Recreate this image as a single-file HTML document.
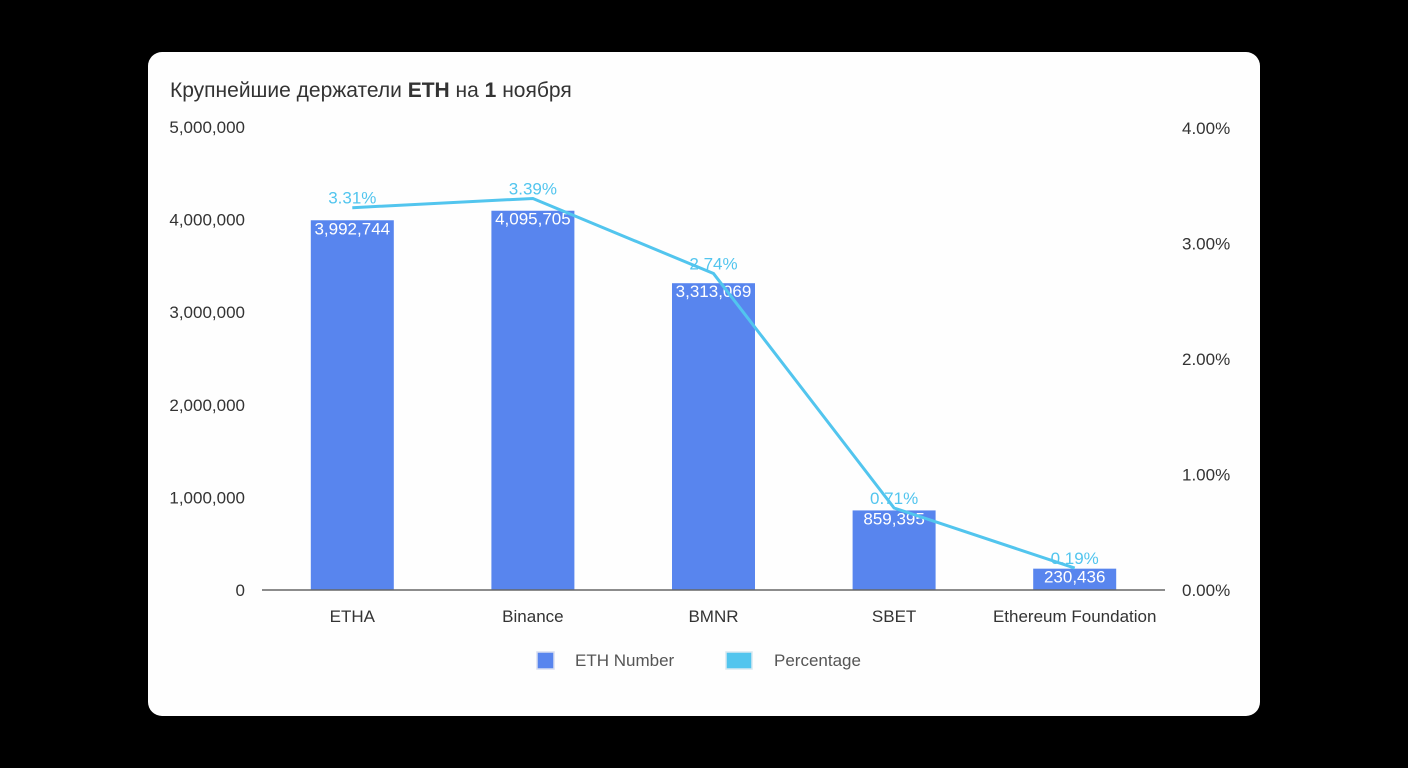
<!DOCTYPE html>
<html><head><meta charset="utf-8"><style>
body{margin:0;background:#000;width:1408px;height:768px;overflow:hidden;font-family:"Liberation Sans","Noto Sans CJK SC",sans-serif}
#card{position:absolute;left:148px;top:52px;width:1112px;height:664px;background:#fefefe;border-radius:14px}
svg{position:absolute;left:0;top:0}
</style></head><body>
<div id="card"></div>
<svg id="chart" width="1408" height="768"></svg>
<script>
const categories=["ETHA","Binance","BMNR","SBET","Ethereum Foundation"];
const ethNumbers=[3992744,4095705,3313069,859395,230436];
const percentages=[3.31,3.39,2.74,0.71,0.19];
const leftTicks=[0,1000000,2000000,3000000,4000000,5000000];
const rightTicks=[0,1,2,3,4];
const svg=document.getElementById('chart');
const NS='http://www.w3.org/2000/svg';
const x0=262,x1=1165,yBase=590,yTop=127,yTopR=128;
const band=(x1-x0)/categories.length;
const xC=i=>x0+band*(i+0.5);
const yL=v=>yBase-v/5000000*(yBase-yTop);
const yR=v=>yBase-v/4*(yBase-yTopR);
function el(t,a,txt){const e=document.createElementNS(NS,t);for(const k in a)e.setAttribute(k,a[k]);if(txt!==undefined)e.textContent=txt;svg.appendChild(e);return e;}
const fmt=v=>v.toLocaleString('en-US');
let t=el('text',{x:170,y:97,'font-size':21,fill:'#333'});
t.innerHTML='Крупнейшие держатели <tspan font-weight="bold">ETH</tspan> на <tspan font-weight="bold">1</tspan> ноября';


leftTicks.forEach(v=>{const e=el('text',{x:245,y:yL(v)+6,'font-size':17,fill:'#333','text-anchor':'end'},fmt(v));

});
rightTicks.forEach(v=>{const e=el('text',{x:1182,y:yR(v)+6,'font-size':17,fill:'#333'},v.toFixed(2)+'%');

});
const bw=83;
ethNumbers.forEach((v,i)=>{const r=el('rect',{x:xC(i)-bw/2,y:yL(v),width:bw,height:yBase-yL(v),fill:'#5885ee'});

});
const ax=el('line',{x1:x0,x2:x1,y1:yBase,y2:yBase,stroke:'#666','stroke-width':1.5});


categories.forEach((c,i)=>{const e=el('text',{x:xC(i),y:622,'font-size':17,fill:'#333','text-anchor':'middle'},c);

});
ethNumbers.forEach((v,i)=>{const e=el('text',{x:xC(i),y:yL(v)+14,'font-size':17,fill:'#fff','text-anchor':'middle'},fmt(v));

});
const pl=el('polyline',{points:percentages.map((p,i)=>xC(i)+','+yR(p)).join(' '),fill:'none',stroke:'#52c5ee','stroke-width':3});


percentages.forEach((p,i)=>{const e=el('text',{x:xC(i),y:yR(p)-4,'font-size':17,fill:'#52c5ee','text-anchor':'middle'},p.toFixed(2)+'%');

});
let s=el('rect',{x:537,y:652,width:17,height:17,fill:'#5885ee',stroke:'#d8def0','stroke-width':1.5});


let lt=el('text',{x:575,y:666,'font-size':17,fill:'#555'},'ETH Number');


s=el('rect',{x:726,y:652,width:26,height:17,fill:'#52c5ee',stroke:'#d8e8f0','stroke-width':1.5});


lt=el('text',{x:774,y:666,'font-size':17,fill:'#555'},'Percentage');


</script>
</body></html>
